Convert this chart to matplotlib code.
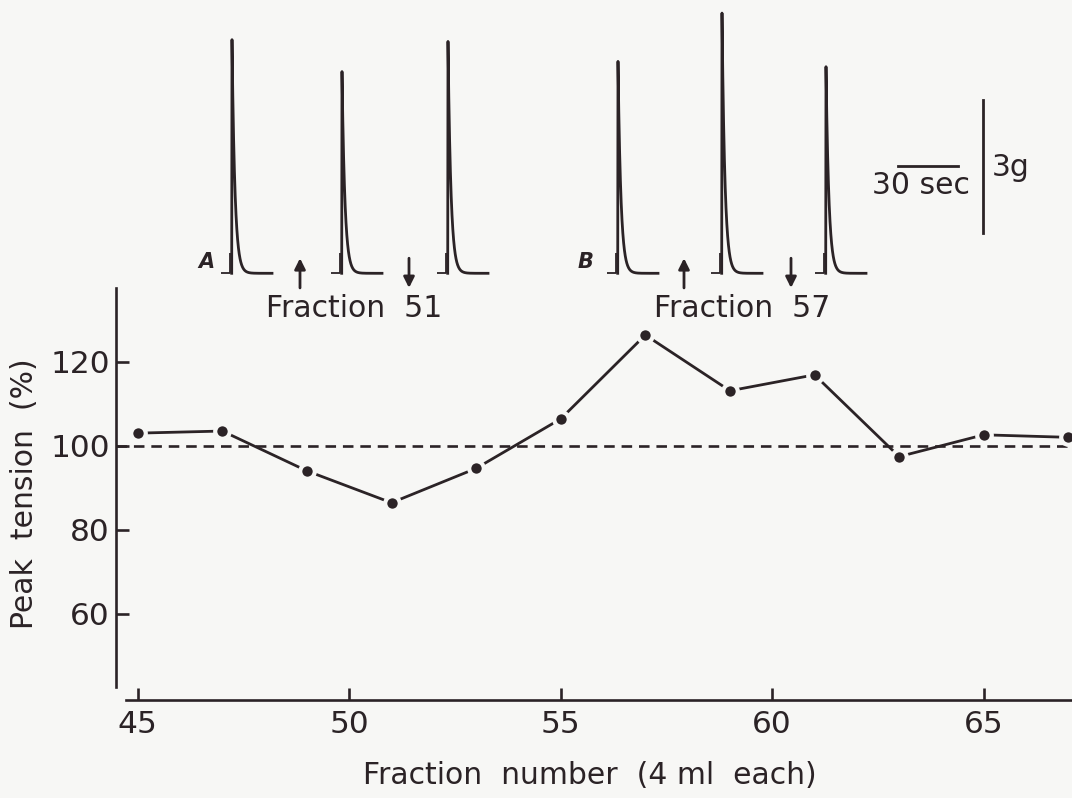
import numpy as np
import matplotlib
matplotlib.use('Agg')
import matplotlib.pyplot as plt

# peak tension of each test fraction (% of control)
fractions = [45, 47, 49, 51, 53, 55, 57, 59, 61, 63, 65, 67]
tension = [103.0, 103.5, 94.0, 86.4, 94.6, 106.4, 126.4, 113.1, 116.9, 97.4, 102.6, 102.0]
xticks = [45, 50, 55, 60, 65]
yticks = [60, 80, 100, 120]

# twitch records shown above the graph (time in s, tension in g)
twitch_t = [116, 171, 224, 309, 361, 413]
twitch_g = [5.27, 4.55, 5.23, 4.78, 5.87, 4.66]
panel_names = ['A', 'B']
panel_t = [103, 292.5]
add_t = [150, 342]       # fraction applied (up arrow)
wash_t = [204.5, 395.5]  # washed out (down arrow)
fraction_names = ['Fraction 51', 'Fraction 57']
fraction_t = [177, 371]

INK = '#2b2326'
BG = '#f7f7f5'
W, H = 1072, 798

plt.rcParams['font.family'] = ['DejaVu Sans']

fig = plt.figure(figsize=(W / 100, H / 100), dpi=100, facecolor=BG)

# ---- main graph
ax = fig.add_axes([115.5 / W, 1 - 700 / H, 1 - 115.5 / W, (700 - 288) / H])
ax.set_facecolor('none')
ax.set_xlim(44.475, 67.087)
ax.set_ylim(39.38, 137.6)

ax.axhline(100, color=INK, lw=1.9, dashes=(4, 2.6), zorder=1)
ax.plot(fractions, tension, color=INK, lw=2.0, marker='o', ms=10.5,
        mfc=INK, mec=BG, mew=3, clip_on=False, zorder=3)

for s in ['top', 'right']:
    ax.spines[s].set_visible(False)
ax.spines['left'].set_bounds(42.55, 137.6)
ax.spines['bottom'].set_bounds(44.73, 67.087)
for s in ['left', 'bottom']:
    ax.spines[s].set_color(INK)
    ax.spines[s].set_linewidth(1.9)

ax.set_xticks(xticks)
ax.set_yticks(yticks)
ax.tick_params(axis='both', direction='in', length=9, width=1.9, color=INK,
               labelcolor=INK, labelsize=22.5)
ax.tick_params(axis='x', pad=7)
ax.tick_params(axis='y', pad=4)

fig.text(590 / W, 1 - 775 / H, 'Fraction  number  (4 ml  each)', ha='center',
         va='center', fontsize=21.5, color=INK)
fig.text(25 / W, 1 - 494 / H, 'Peak  tension  (%)', rotation=90, ha='center',
         va='center', fontsize=21.5, color=INK)

# ---- twitch records (2 px per s, 44.3 px per g, baseline at y = 273 px)
tr = fig.add_axes([0, 1 - 330 / H, 1, 330 / H])
tr.set_xlim(0, W / 2.0)
tr.set_ylim(-(330 - 273.3) / 44.33, 273.3 / 44.33)
tr.axis('off')
tr.patch.set_alpha(0)

decay = np.linspace(0, 20, 300)
for t0, h in zip(twitch_t, twitch_g):
    tr.plot([t0 - 5.5, t0 - 1.1, t0 - 1.1], [0, 0, 0.45], color=INK, lw=1.3,
            solid_capstyle='butt')
    tr.plot(np.r_[t0 - 0.15, t0 + decay], np.r_[0, h * np.exp(-decay / 1.45)],
            color=INK, lw=2.0, solid_joinstyle='round')

for name, t in zip(panel_names, panel_t):
    tr.text(t, 0.25, name, ha='center', va='center', fontsize=15,
            fontweight='bold', fontstyle='italic', color=INK)

for t in add_t:
    tr.annotate('', xy=(t, 0.34), xytext=(t, -0.33),
                arrowprops=dict(arrowstyle='-|>', color=INK, lw=2.0,
                                mutation_scale=16, shrinkA=0, shrinkB=0))
for t in wash_t:
    tr.annotate('', xy=(t, -0.33), xytext=(t, 0.34),
                arrowprops=dict(arrowstyle='-|>', color=INK, lw=2.0,
                                mutation_scale=16, shrinkA=0, shrinkB=0))

for name, t in zip(fraction_names, fraction_t):
    tr.text(t, -0.8, name.replace(' ', '  '), ha='center', va='center',
            fontsize=21.5, color=INK)

# scale bars: 30 s and 3 g
tr.plot([449, 479], [2.43, 2.43], color=INK, lw=2.0)
tr.plot([491.5, 491.5], [0.91, 3.91], color=INK, lw=2.0)
tr.text(460.5, 1.98, '30 sec', ha='center', va='center', fontsize=21.5, color=INK)
tr.text(496, 2.2, '3g', ha='left', va='baseline', fontsize=21.5, color=INK)

fig.savefig('out.png', dpi=100, facecolor=BG)
